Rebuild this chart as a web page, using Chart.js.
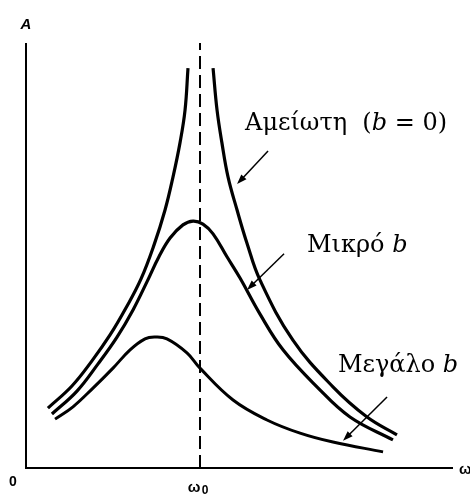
<!DOCTYPE html>
<html>
<head>
<meta charset="utf-8">
<script src="https://cdn.jsdelivr.net/npm/chart.js@4"></script>
<style>
  html, body { margin: 0; padding: 0; background: #fff; }
  #wrap { width: 470px; height: 494px; }
</style>
</head>
<body>
<div id="wrap"><canvas id="resonance"></canvas></div>
<script>
// values: x = omega / omega0, y = amplitude A (arbitrary units)
const undampedLeftW = [0.126, 0.264, 0.379, 0.483, 0.575, 0.661, 0.736, 0.799, 0.845, 0.885, 0.914, 0.931];
const undampedLeftA = [1.41, 1.93, 2.52, 3.13, 3.77, 4.45, 5.25, 6.07, 6.85, 7.65, 8.42, 9.41];
const undampedRightW = [1.075, 1.098, 1.126, 1.161, 1.213, 1.270, 1.345, 1.534, 1.764, 1.960, 2.132];
const undampedRightA = [9.41, 8.42, 7.65, 6.85, 6.07, 5.29, 4.42, 3.01, 1.91, 1.20, 0.78];
const smallBW = [0.149, 0.293, 0.414, 0.523, 0.615, 0.695, 0.764, 0.828, 0.902, 0.960, 1.017, 1.075, 1.155, 1.230, 1.345, 1.477, 1.672, 1.862, 2.109];
const smallBA = [1.27, 1.81, 2.45, 3.08, 3.72, 4.38, 4.97, 5.41, 5.72, 5.81, 5.74, 5.51, 4.97, 4.47, 3.62, 2.78, 1.91, 1.20, 0.66];
const largeBW = [0.167, 0.270, 0.385, 0.500, 0.598, 0.684, 0.741, 0.810, 0.925, 1.000, 1.190, 1.385, 1.575, 1.764, 2.052];
const largeBA = [1.15, 1.44, 1.88, 2.35, 2.78, 3.04, 3.08, 3.04, 2.71, 2.35, 1.60, 1.13, 0.82, 0.61, 0.38];

const curveNames = ['Αμείωτη (b = 0)', 'Μικρό b', 'Μεγάλο b'];
const resonanceW = 1;
const wMax = 2.454;
const aMax = 10;

function pts(ws, as) {
  return ws.map((w, i) => ({ x: w, y: as[i] }));
}

// label text (runs: [text, italic]) with anchor in data units, and arrows (from -> to)
const notes = [
  { runs: [['Αμείωτη  (', false], ['b', true], [' = 0)', false]], at: [1.259, 7.95], arrow: [[1.391, 7.46], [1.213, 6.68]] },
  { runs: [['Μικρό ', false], ['b', true]], at: [1.615, 5.08], arrow: [[1.483, 5.04], [1.270, 4.19]] },
  { runs: [['Μεγάλο ', false], ['b', true]], at: [1.793, 2.26], arrow: [[2.075, 1.67], [1.822, 0.64]] }
];

function drawArrow(ctx, x1, y1, x2, y2) {
  const ang = Math.atan2(y2 - y1, x2 - x1);
  const len = 10, half = 3.5;
  ctx.beginPath();
  ctx.moveTo(x1, y1);
  ctx.lineTo(x2 - Math.cos(ang) * len * 0.6, y2 - Math.sin(ang) * len * 0.6);
  ctx.lineWidth = 1.5;
  ctx.stroke();
  ctx.beginPath();
  ctx.moveTo(x2, y2);
  ctx.lineTo(x2 - Math.cos(ang) * len - Math.sin(ang) * half, y2 - Math.sin(ang) * len + Math.cos(ang) * half);
  ctx.lineTo(x2 - Math.cos(ang) * len + Math.sin(ang) * half, y2 - Math.sin(ang) * len - Math.cos(ang) * half);
  ctx.closePath();
  ctx.fill();
}

const annotate = {
  id: 'annotate',
  afterDatasetsDraw(chart) {
    const { ctx } = chart;
    const sx = chart.scales.x, sy = chart.scales.y;
    const px = v => sx.getPixelForValue(v);
    const py = v => sy.getPixelForValue(v);
    ctx.save();
    ctx.strokeStyle = '#000';
    ctx.fillStyle = '#000';

    // axes
    ctx.lineWidth = 2;
    ctx.beginPath();
    ctx.moveTo(px(0), py(aMax));
    ctx.lineTo(px(0), py(0));
    ctx.lineTo(px(wMax), py(0));
    ctx.stroke();

    // axis labels
    ctx.font = 'italic bold 15px "Liberation Sans", Arial, sans-serif';
    ctx.textAlign = 'center';
    ctx.textBaseline = 'middle';
    ctx.fillText('A', px(0), py(aMax) - 18);
    ctx.font = 'bold 14px "Liberation Sans", Arial, sans-serif';
    ctx.fillText('0', px(0) - 13, py(0) + 14);
    ctx.font = 'bold 15px "Liberation Sans", Arial, sans-serif';
    ctx.fillText('ω', px(resonanceW) - 6, py(0) + 20);
    ctx.font = 'bold 12px "Liberation Sans", Arial, sans-serif';
    ctx.fillText('0', px(resonanceW) + 5, py(0) + 23);
    ctx.font = 'bold 15px "Liberation Sans", Arial, sans-serif';
    ctx.textAlign = 'left';
    ctx.fillText('ω', px(wMax) + 6, py(0) + 2);

    // curve labels
    ctx.textAlign = 'left';
    ctx.textBaseline = 'alphabetic';
    notes.forEach(n => {
      let x = px(n.at[0]);
      const y = py(n.at[1]);
      n.runs.forEach(([t, it]) => {
        ctx.font = (it ? 'italic ' : '') + '24px "DejaVu Serif", "Liberation Serif", serif';
        ctx.fillText(t, x, y);
        x += ctx.measureText(t).width;
      });
      drawArrow(ctx, px(n.arrow[0][0]), py(n.arrow[0][1]), px(n.arrow[1][0]), py(n.arrow[1][1]));
    });
    ctx.restore();
  }
};

const curve = (label, data, width) => ({
  label, data,
  borderColor: '#000',
  borderWidth: width,
  borderCapStyle: 'butt',
  pointRadius: 0,
  tension: 0.4,
  fill: false
});

new Chart(document.getElementById('resonance'), {
  type: 'line',
  data: {
    datasets: [
      curve(curveNames[0], pts(undampedLeftW, undampedLeftA), 3.2),
      curve(curveNames[0], pts(undampedRightW, undampedRightA), 3.2),
      curve(curveNames[1], pts(smallBW, smallBA), 3.2),
      curve(curveNames[2], pts(largeBW, largeBA), 3),
      {
        label: 'ω0',
        data: [{ x: resonanceW, y: 0 }, { x: resonanceW, y: aMax }],
        borderColor: '#000',
        borderWidth: 2,
        borderDash: [13, 6],
        pointRadius: 0,
        tension: 0
      }
    ]
  },
  options: {
    responsive: true,
    maintainAspectRatio: false,
    animation: false,
    layout: { padding: { left: 26, right: 17, top: 43, bottom: 26 } },
    plugins: { legend: { display: false }, tooltip: { enabled: false } },
    scales: {
      x: { type: 'linear', min: 0, max: wMax, display: false },
      y: { min: 0, max: aMax, display: false }
    }
  },
  plugins: [annotate]
});
</script>
</body>
</html>
